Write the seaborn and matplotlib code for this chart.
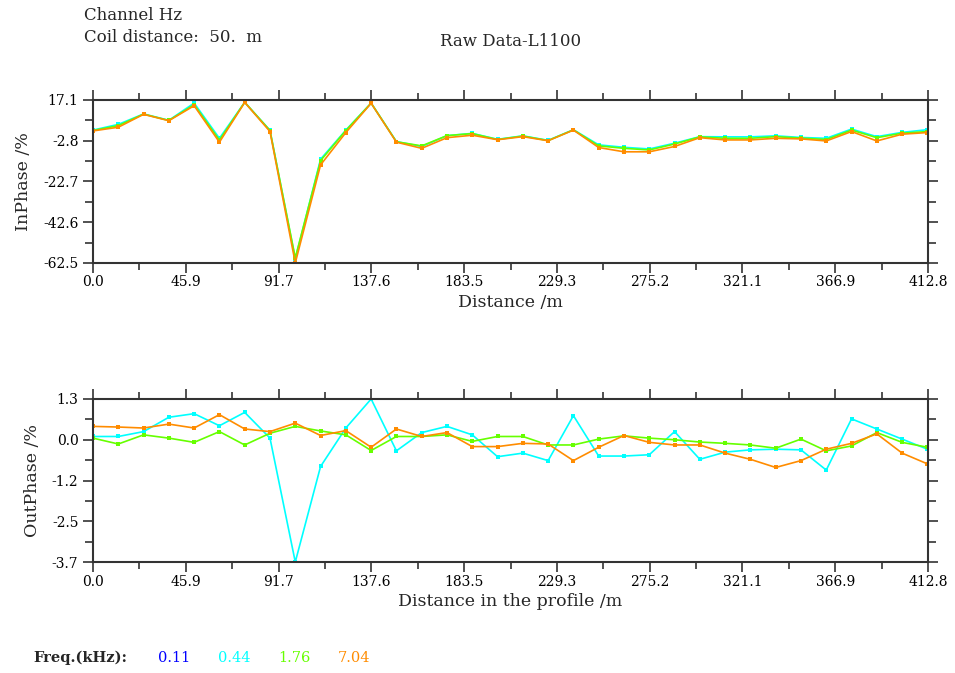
import numpy as np
import pandas as pd
import matplotlib
matplotlib.use("Agg")
import matplotlib.pyplot as plt
import seaborn as sns

sns.set_theme(style="white")
plt.rcParams['font.family'] = ['DejaVu Serif']

distance = [i * 12.5 for i in range(34)]

freqs = ["0.11", "0.44", "1.76", "7.04"]
freq_colors = ["#0000ff", "#00ffff", "#66ff00", "#ff8c00"]

inphase_044 = [2.4, 5.2, 10.3, 7.2, 15.6, -1.6, 16.0, 2.3, -60.5, -11.8, 2.4, 15.6, -3.2, -5.6,
               -0.3, 0.8, -2.1, -0.4, -2.6, 2.6, -4.8, -6.0, -6.8, -4.0, -0.8, -0.9, -0.9,
               -0.4, -1.2, -1.6, 2.9, -0.8, 1.3, 2.6]
inphase_176 = [2.2, 4.6, 10.2, 7.1, 14.8, -2.5, 16.0, 2.2, -60.0, -12.5, 2.2, 15.6, -3.3, -5.3,
               -0.3, 0.7, -2.2, -0.5, -2.7, 2.5, -5.3, -6.5, -7.3, -4.4, -0.9, -1.6, -1.6,
               -0.8, -1.5, -2.2, 2.4, -1.3, 0.9, 1.7]
inphase_704 = [2.0, 3.8, 10.1, 7.0, 14.3, -3.5, 15.9, 1.7, -62.5, -14.6, 1.2, 15.5, -3.5, -6.5,
               -1.3, -0.1, -2.3, -0.8, -2.8, 2.4, -6.1, -8.2, -8.2, -5.6, -1.3, -2.4, -2.4,
               -1.6, -1.9, -2.9, 1.7, -2.9, 0.4, 1.2]

outphase_044 = [0.15, 0.15, 0.30, 0.74, 0.85, 0.48, 0.89, 0.10, -3.70, -0.77, 0.41, 1.30, -0.29,
                0.27, 0.46, 0.20, -0.47, -0.36, -0.59, 0.79, -0.45, -0.45, -0.41, 0.30, -0.55,
                -0.33, -0.26, -0.24, -0.26, -0.88, 0.69, 0.38, 0.07, -0.24]
outphase_176 = [0.10, -0.08, 0.20, 0.10, -0.03, 0.30, -0.11, 0.25, 0.46, 0.32, 0.20, -0.28, 0.15,
                0.15, 0.20, 0.00, 0.15, 0.15, -0.11, -0.11, 0.07, 0.17, 0.10, 0.05, -0.02,
                -0.06, -0.11, -0.21, 0.07, -0.29, -0.14, 0.27, -0.03, -0.18]
outphase_704 = [0.46, 0.44, 0.41, 0.53, 0.41, 0.82, 0.38, 0.30, 0.56, 0.18, 0.33, -0.18, 0.38,
                0.15, 0.27, -0.16, -0.16, -0.06, -0.08, -0.59, -0.18, 0.18, -0.03, -0.11, -0.11,
                -0.36, -0.55, -0.80, -0.59, -0.24, -0.06, 0.23, -0.36, -0.69]

x_ticks = [0.0, 45.9, 91.7, 137.6, 183.5, 229.3, 275.2, 321.1, 366.9, 412.8]
in_ticks = ["17.1", "-2.8", "-22.7", "-42.6", "-62.5"]
out_ticks = ["1.3", "0.0", "-1.2", "-2.5", "-3.7"]

W, H = 955, 673
fig = plt.figure(figsize=(W / 100, H / 100), dpi=100)
left = 93 / W
width = 835 / W
ax1 = fig.add_axes([left, 1 - 263 / H, width, 163 / H])
ax2 = fig.add_axes([left, 1 - 562 / H, width, 163 / H])

def draw(ax, series, yticks, ylabel, xlabel):
    for vals, col in series:
        df = pd.DataFrame({"x": distance, "y": vals})
        sns.lineplot(data=df, x="x", y="y", ax=ax, color=col, linewidth=1.2,
                     marker="s", markersize=3.5, markeredgewidth=0, markeredgecolor=col,
                     legend=False)
    yvals = [float(v) for v in yticks]
    ax.set_ylim(yvals[-1], yvals[0])
    ax.set_xlim(0, 412.8)
    ax.set_xticks(np.linspace(0, 412.8, 10))
    ax.set_xticklabels([f"{v:.1f}" for v in x_ticks])
    ax.set_xticks(np.linspace(0, 412.8, 19), minor=True)
    ax.set_yticks(np.linspace(yvals[0], yvals[-1], 5))
    ax.set_yticklabels(yticks)
    ax.set_yticks(np.linspace(yvals[0], yvals[-1], 9), minor=True)
    ax.tick_params(which="both", direction="out", top=True, right=True, bottom=True, left=True,
                   color="#333333", labelsize=10, labelcolor="black")
    ax.tick_params(which="major", length=7, width=1.2)
    ax.tick_params(axis="x", which="minor", length=5, width=1.2)
    ax.tick_params(axis="y", which="minor", length=6, width=1.2)
    ax.tick_params(axis="x", pad=2)
    for s in ax.spines.values():
        s.set_color("#333333")
        s.set_linewidth(1.5)
    ax.set_ylabel(ylabel, fontsize=12.5, labelpad=8)
    ax.set_xlabel(xlabel, fontsize=12.5, labelpad=3)
    ax.grid(False)

draw(ax1, [(inphase_044, freq_colors[1]), (inphase_176, freq_colors[2]),
           (inphase_704, freq_colors[3])], in_ticks, "InPhase /%", "Distance /m")
draw(ax2, [(outphase_044, freq_colors[1]), (outphase_176, freq_colors[2]),
           (outphase_704, freq_colors[3])], out_ticks, "OutPhase /%", "Distance in the profile /m")

fig.text(84 / W, 1 - 16 / H, "Channel Hz", fontsize=12, va="center", ha="left")
fig.text(84 / W, 1 - 37 / H, "Coil distance:  50.  m", fontsize=12, va="center", ha="left")
fig.text(440 / W, 1 - 42 / H, "Raw Data-L1100", fontsize=12, va="center", ha="left")

fig.text(33 / W, 1 - 658 / H, "Freq.(kHz):", fontsize=10.5, fontweight="bold",
         va="center", ha="left")
for i, (f, c) in enumerate(zip(freqs, freq_colors)):
    fig.text((158 + 60 * i) / W, 1 - 658 / H, f, fontsize=10.5, color=c, va="center", ha="left")

fig.savefig("out.png", dpi=100)
